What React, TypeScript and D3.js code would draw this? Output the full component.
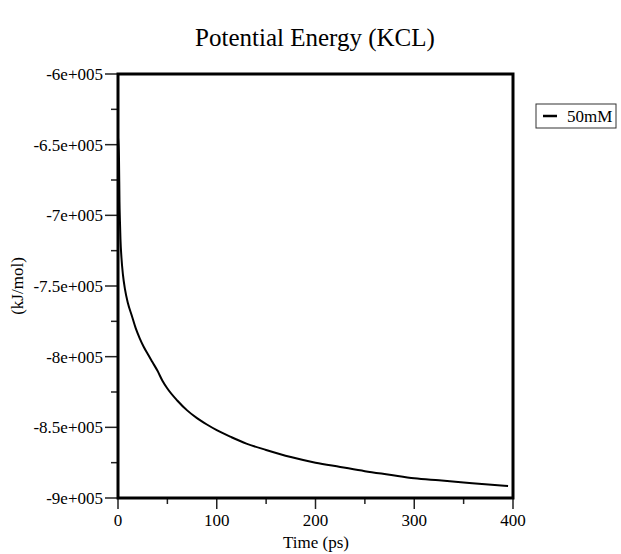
import React from "react";
import * as d3 from "d3";

// Potential energy trace of the 50mM KCl system
const timePs = [0, 1, 1.5, 2, 2.5, 3.5, 5, 7, 10, 14, 18, 22, 26, 30, 35, 40, 45, 50, 60, 70, 80, 90, 100, 115, 130, 150, 175, 200, 225, 250, 275, 300, 325, 350, 375, 395];
const energy = [-645000, -660000, -690000, -705000, -717000, -730000, -742000, -752000, -762000, -771000, -780000, -787000, -793000, -798000, -804000, -810000, -817000, -822500, -831000, -838000, -843500, -848000, -852000, -857000, -861500, -866000, -871000, -875000, -878000, -881000, -883500, -886000, -887500, -889000, -890500, -891500];

const seriesName = "50mM";
const xMajorTicks = [0, 100, 200, 300, 400];
const xMinorTicks = [50, 150, 250, 350];
const yMajorTicks = [-600000, -650000, -700000, -750000, -800000, -850000, -900000];
const yMinorTicks = [-625000, -675000, -725000, -775000, -825000, -875000];

const W = 621;
const H = 554;
const plot = { left: 118, right: 513, top: 74, bottom: 498 };

const fmtSci = (v: number) => {
  const m = v / 1e5;
  const s = Number.isInteger(m) ? String(m) : m.toFixed(1);
  return `${s}e+005`;
};

export default function App() {
  const x = d3.scaleLinear().domain([0, 400]).range([plot.left, plot.right]);
  const y = d3.scaleLinear().domain([-900000, -600000]).range([plot.bottom, plot.top]);
  const data = timePs.map((t, i) => [t, energy[i]] as [number, number]);
  const line = d3
    .line<[number, number]>()
    .x((d) => x(d[0]))
    .y((d) => y(d[1]))
    .curve(d3.curveMonotoneX);

  const font = "'Liberation Serif', 'Times New Roman', serif";

  return (
    <svg width={W} height={H} style={{ position: "absolute", left: 0, top: 0, background: "#fff" }}>
      <rect x={0} y={0} width={W} height={H} fill="#fff" />
      <text x={315} y={46} fontFamily={font} fontSize={25} textAnchor="middle" fill="#000">
        Potential Energy (KCL)
      </text>

      {/* y axis ticks */}
      {yMajorTicks.map((v) => (
        <g key={`ym${v}`}>
          <line x1={plot.left - 13} x2={plot.left} y1={y(v)} y2={y(v)} stroke="#222" strokeWidth={1.5} />
          <text x={plot.left - 15} y={y(v)} dy="0.35em" fontFamily={font} fontSize={17} textAnchor="end" fill="#000">
            {fmtSci(v)}
          </text>
        </g>
      ))}
      {yMinorTicks.map((v) => (
        <line key={`yn${v}`} x1={plot.left - 7} x2={plot.left} y1={y(v)} y2={y(v)} stroke="#222" strokeWidth={1.5} />
      ))}

      {/* x axis ticks */}
      {xMajorTicks.map((v) => (
        <g key={`xm${v}`}>
          <line x1={x(v)} x2={x(v)} y1={plot.bottom} y2={plot.bottom + 11} stroke="#222" strokeWidth={1.5} />
          <text x={x(v)} y={plot.bottom + 28} fontFamily={font} fontSize={17} textAnchor="middle" fill="#000">
            {v}
          </text>
        </g>
      ))}
      {xMinorTicks.map((v) => (
        <line key={`xn${v}`} x1={x(v)} x2={x(v)} y1={plot.bottom} y2={plot.bottom + 6} stroke="#222" strokeWidth={1.5} />
      ))}

      <text x={316} y={548} fontFamily={font} fontSize={17} textAnchor="middle" fill="#000">
        Time (ps)
      </text>
      <text
        transform={`translate(23, ${(plot.top + plot.bottom) / 2}) rotate(-90)`}
        fontFamily={font}
        fontSize={17}
        textAnchor="middle"
        fill="#000"
      >
        (kJ/mol)
      </text>

      {/* data line */}
      <path d={line(data) || ""} fill="none" stroke="#000" strokeWidth={2} strokeLinejoin="round" />

      {/* frame */}
      <rect
        x={plot.left}
        y={plot.top}
        width={plot.right - plot.left}
        height={plot.bottom - plot.top}
        fill="none"
        stroke="#000"
        strokeWidth={3}
      />

      {/* legend */}
      <rect x={536} y={104} width={80} height={24} fill="#fff" stroke="#333" strokeWidth={1} />
      <line x1={543} x2={557} y1={116} y2={116} stroke="#000" strokeWidth={2.5} />
      <text x={567} y={116} dy="0.35em" fontFamily={font} fontSize={17} fill="#000">
        {seriesName}
      </text>
    </svg>
  );
}
